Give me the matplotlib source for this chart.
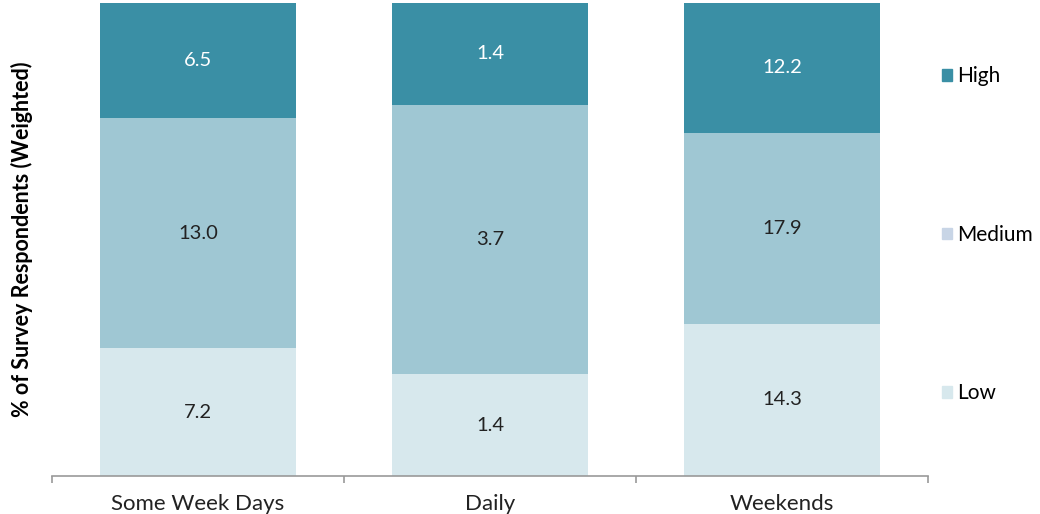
import numpy as np
import matplotlib
matplotlib.use('Agg')
from matplotlib import pyplot as plt
from matplotlib.patches import Patch

plt.rcParams['font.family'] = ['Lato', 'DejaVu Sans']

categories = ['Some Week Days', 'Daily', 'Weekends']
low = [7.2, 1.4, 14.3]
medium = [13.0, 3.7, 17.9]
high = [6.5, 1.4, 12.2]

series = [('Low', low, '#d7e8ed', '#222222'),
          ('Medium', medium, '#9fc7d3', '#222222'),
          ('High', high, '#3a8fa5', 'white')]
legend_colors = {'High': '#3a8fa5', 'Medium': '#c8d5e6', 'Low': '#d7e8ed'}

totals = np.array(low) + np.array(medium) + np.array(high)
x = np.arange(len(categories))

fig = plt.figure(figsize=(10.4, 5.14), dpi=100)
ax = fig.add_axes([0.05, 0.074, 0.8423, 0.9202])

# 100% stacked bars, labelled with the raw values
bottom = np.zeros(len(categories))
for name, vals, color, txt_color in series:
    share = np.array(vals) / totals * 100
    ax.bar(x, share, bottom=bottom, width=0.67, color=color, label=name)
    for xi, b, s, v in zip(x, bottom, share, vals):
        ax.text(xi, b + s / 2, f'{v:.1f}', ha='center', va='center',
                fontsize=14.5, color=txt_color)
    bottom += share

ax.set_xlim(-0.5, 2.5)
ax.set_ylim(0, 100)
ax.set_xticks(x)
ax.set_xticklabels(categories, fontsize=16, color='#222222')
ax.tick_params(axis='x', which='major', length=0, pad=13)
ax.set_xticks([-0.5, 0.5, 1.5, 2.5], minor=True)
ax.tick_params(axis='x', which='minor', length=5, width=1.2, color='#999999')
ax.set_yticks([])
for side in ['top', 'right', 'left']:
    ax.spines[side].set_visible(False)
ax.spines['bottom'].set_color('#999999')
ax.spines['bottom'].set_linewidth(1.2)

ax.set_ylabel('% of Survey Respondents (Weighted)', fontsize=15.5,
              fontweight='bold', labelpad=14)

handles = [Patch(color=legend_colors[n]) for n in ['High', 'Medium', 'Low']]
ax.legend(handles, ['High', 'Medium', 'Low'], loc='upper left',
          bbox_to_anchor=(1.004, 0.888), frameon=False, fontsize=15,
          handlelength=0.5, handleheight=0.5, handletextpad=0.25,
          labelspacing=6.65, borderpad=0)

plt.savefig('out.png', dpi=100)
